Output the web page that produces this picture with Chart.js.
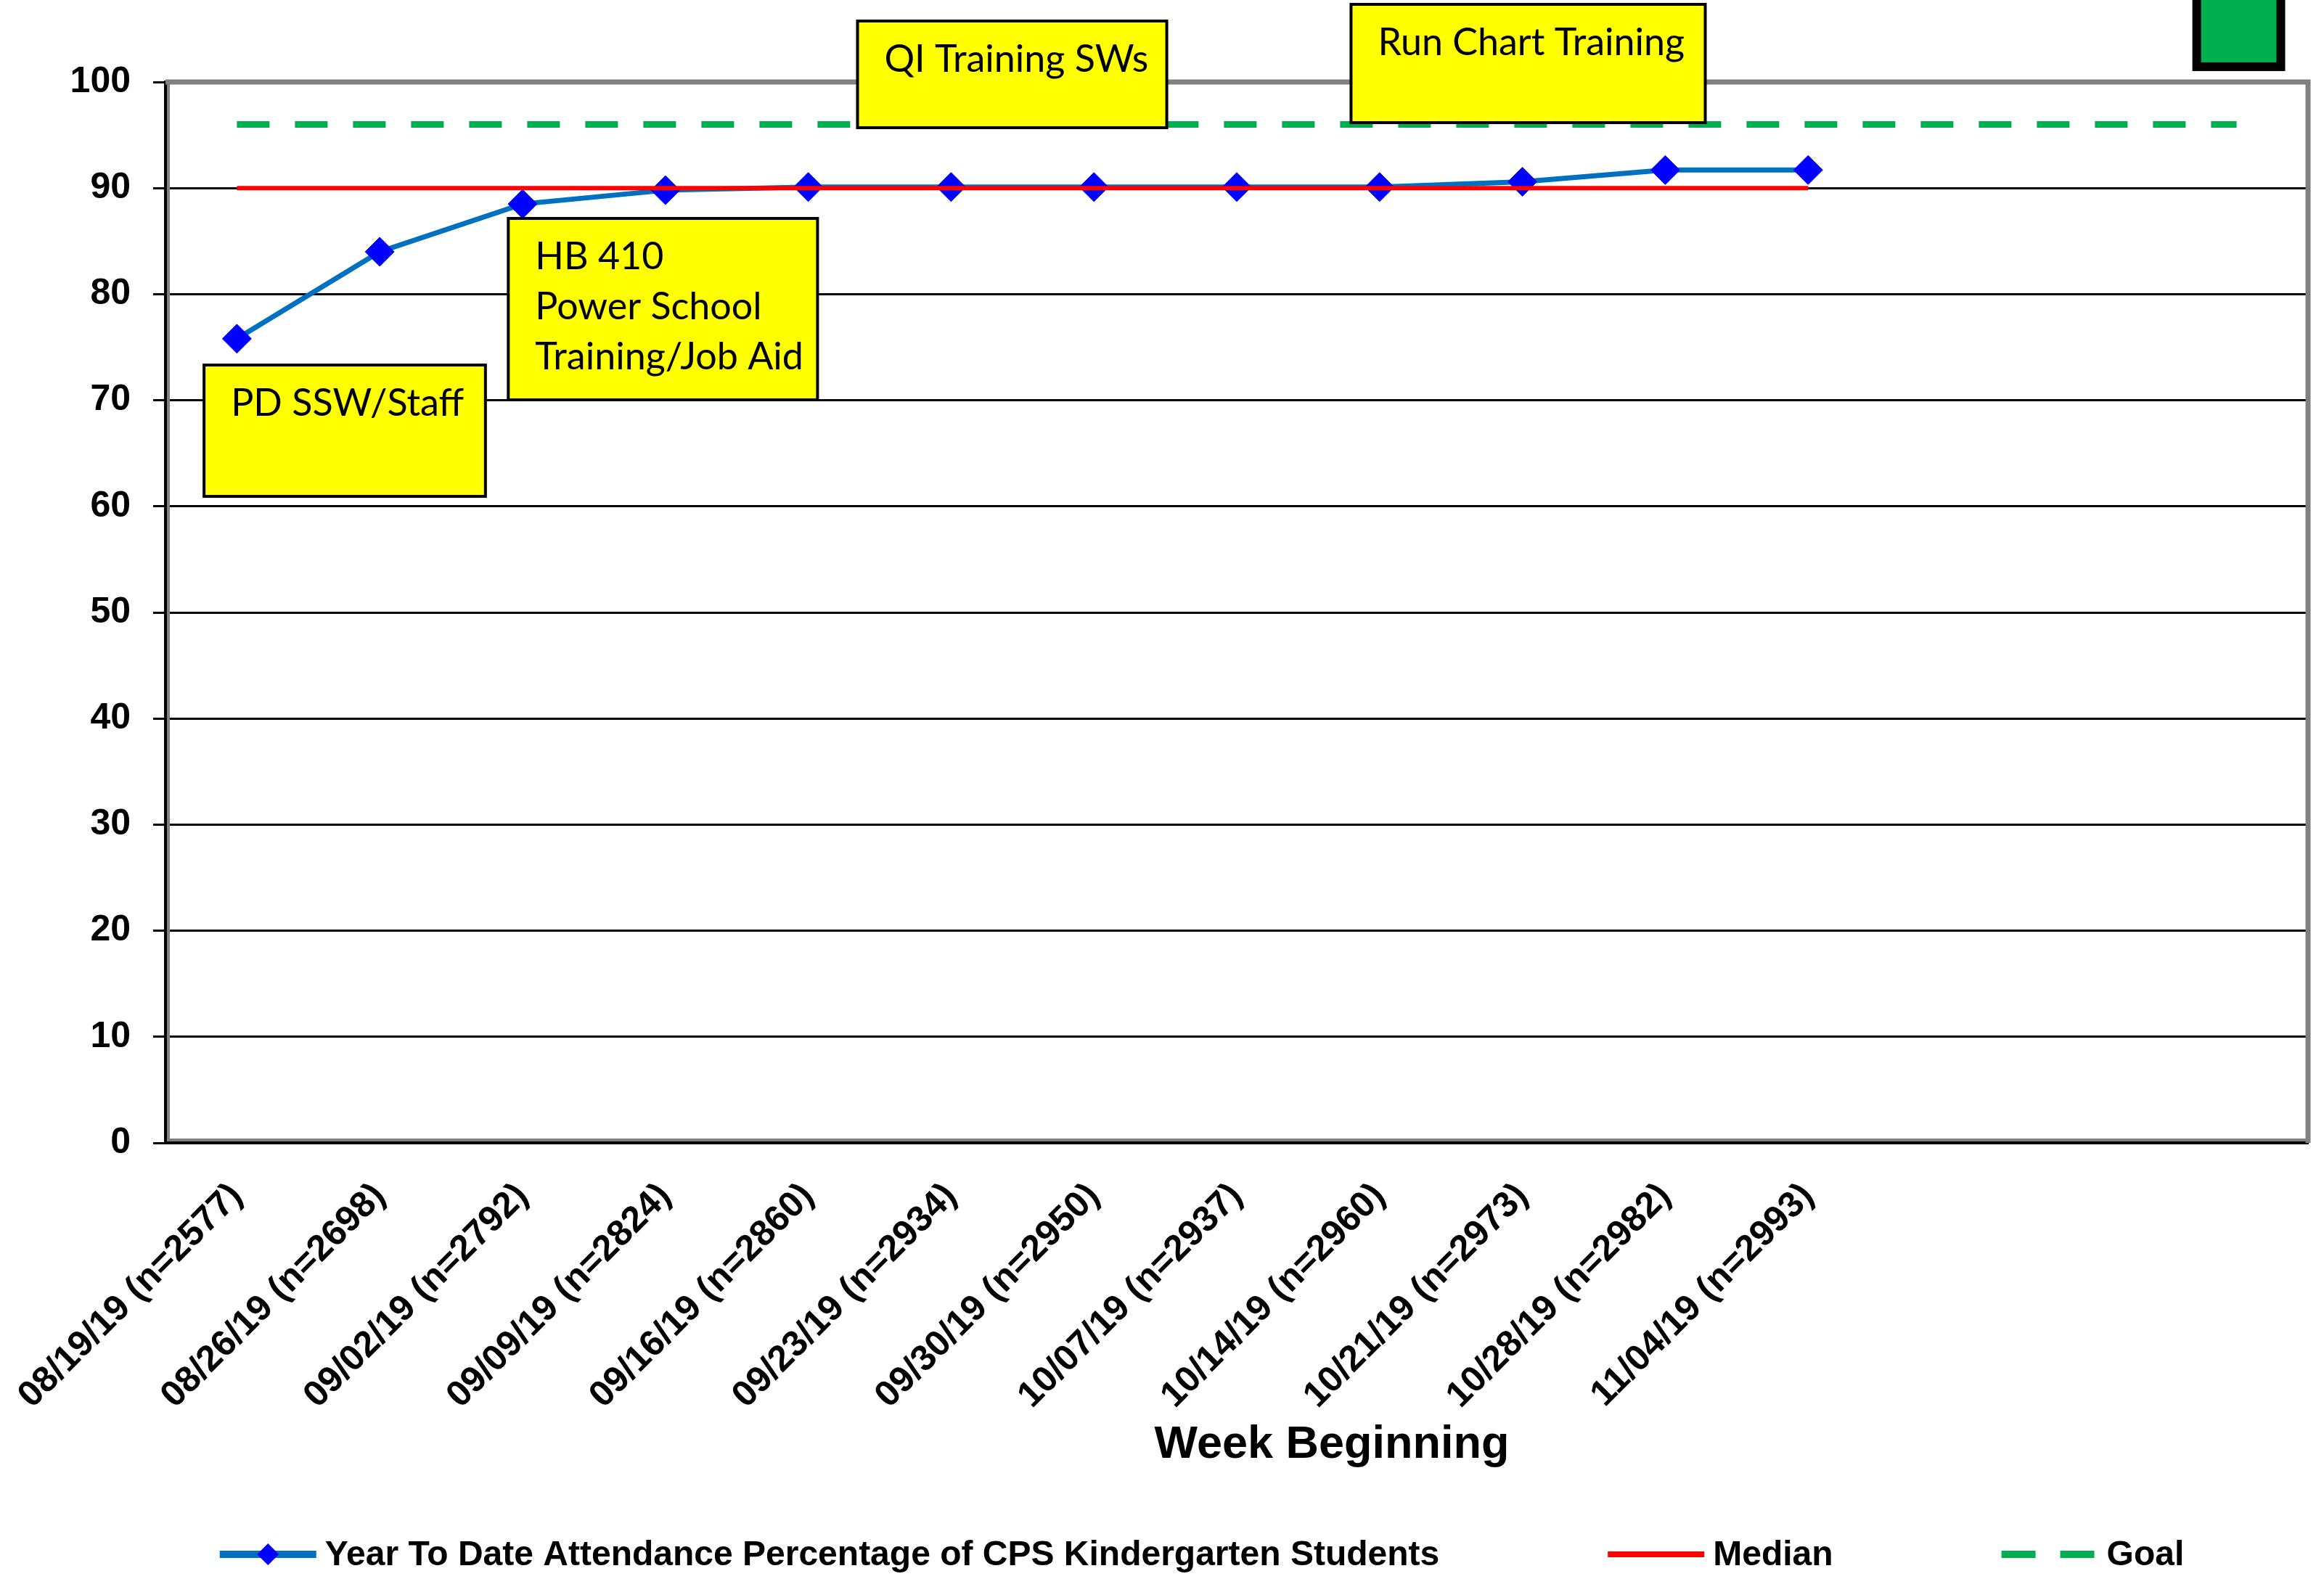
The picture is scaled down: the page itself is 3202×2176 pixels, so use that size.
<!DOCTYPE html>
<html>
<head>
<meta charset="utf-8">
<script src="https://cdn.jsdelivr.net/npm/chart.js@4.4.1/dist/chart.umd.min.js"></script>
<style>
  html, body { margin: 0; padding: 0; background: #ffffff; }
  canvas { display: block; }
</style>
</head>
<body>
<canvas id="chart" width="3202" height="2176"></canvas>
<script>
// ---------------- data ----------------
const weekLabels = [
  "08/19/19 (n=2577)", "08/26/19 (n=2698)", "09/02/19 (n=2792)", "09/09/19 (n=2824)",
  "09/16/19 (n=2860)", "09/23/19 (n=2934)", "09/30/19 (n=2950)", "10/07/19 (n=2937)",
  "10/14/19 (n=2960)", "10/21/19 (n=2973)", "10/28/19 (n=2982)", "11/04/19 (n=2993)",
  "", "", ""
];
const attendance = [75.8, 84.0, 88.5, 89.8, 90.1, 90.1, 90.1, 90.1, 90.1, 90.6, 91.7, 91.7];
const median = [90, 90, 90, 90, 90, 90, 90, 90, 90, 90, 90, 90];
const goal = [96, 96, 96, 96, 96, 96, 96, 96, 96, 96, 96, 96, 96, 96, 96];
const yTickValues = [0, 10, 20, 30, 40, 50, 60, 70, 80, 90, 100];
const seriesNames = [
  "Year To Date Attendance Percentage of CPS Kindergarten Students",
  "Median",
  "Goal"
];
const xAxisTitle = "Week Beginning";
const noteTexts = [
  ["PD SSW/Staff"],
  ["HB 410", "Power School", "Training/Job Aid"],
  ["QI Training SWs"],
  ["Run Chart Training"]
];

// ---------------- layout / style (not data) ----------------
const ARIAL = '"Liberation Sans", Arial, sans-serif';
const notePlacement = [   // in axis units: category index / value
  { x0: -0.23, x1: 1.74, y0: 73.32, y1: 60.94 },
  { x0: 1.90, x1: 4.065, y0: 87.14, y1: 70.04 },
  { x0: 4.345, x1: 6.51, y0: 105.75, y1: 95.69 },
  { x0: 7.80, x1: 10.28, y0: 107.32, y1: 96.17 }
];
const statusSquare = { x0: 13.69, x1: 14.34, y0: 108.6, y1: 101.03, border: 12, fill: '#00B050' };
const noteStyle = { fill: '#FFFF00', stroke: '#000000', lineWidth: 4, font: '52px Lato, "Open Sans", sans-serif',
                    inset: 37, firstBaseline: 70, lineStep: 69 };
const legendStyle = { font: 'bold 48px ' + ARIAL, centerX: 1656, iconY: 2142, baselineY: 2157,
                      iconWidth: 133, iconGap: 12, itemGap: 232, lineWidths: [10, 8, 10],
                      dashes: [[], [], [47, 34]], markerRadius: 15 };
const titleStyle = { font: 'bold 63px ' + ARIAL, centerX: 1835, baselineY: 2009 };

const framePlugin = {
  id: 'frame',
  beforeDatasetsDraw(chart) {
    const { ctx, chartArea: { left, right, top, bottom } } = chart;
    ctx.save();
    ctx.strokeStyle = '#808080';
    ctx.lineWidth = 7;
    ctx.beginPath();
    ctx.moveTo(left, top); ctx.lineTo(right + 3.5, top);
    ctx.moveTo(right, top); ctx.lineTo(right, bottom);
    ctx.stroke();
    ctx.lineWidth = 4;
    ctx.beginPath();
    ctx.moveTo(left + 4, top); ctx.lineTo(left + 4, bottom - 2);
    ctx.moveTo(left + 2, bottom - 4); ctx.lineTo(right, bottom - 4);
    ctx.stroke();
    ctx.restore();
  }
};

const notesPlugin = {
  id: 'notes',
  afterDatasetsDraw(chart) {
    const { ctx, scales: { x, y } } = chart;
    ctx.save();
    noteTexts.forEach((lines, i) => {
      const p = notePlacement[i];
      const L = x.getPixelForValue(p.x0), R = x.getPixelForValue(p.x1);
      const T = y.getPixelForValue(p.y0), B = y.getPixelForValue(p.y1);
      ctx.fillStyle = noteStyle.fill;
      ctx.fillRect(L, T, R - L, B - T);
      ctx.strokeStyle = noteStyle.stroke;
      ctx.lineWidth = noteStyle.lineWidth;
      ctx.strokeRect(L, T, R - L, B - T);
      ctx.fillStyle = '#000000';
      ctx.font = noteStyle.font;
      ctx.textAlign = 'left';
      ctx.textBaseline = 'alphabetic';
      lines.forEach((t, k) => {
        ctx.fillText(t, L + noteStyle.inset, T + noteStyle.firstBaseline + k * noteStyle.lineStep);
      });
    });
    const s = statusSquare;
    const L = x.getPixelForValue(s.x0), R = x.getPixelForValue(s.x1);
    const T = y.getPixelForValue(s.y0), B = y.getPixelForValue(s.y1);
    ctx.fillStyle = '#000000';
    ctx.fillRect(L, T, R - L, B - T);
    ctx.fillStyle = s.fill;
    ctx.fillRect(L + s.border, T + s.border, R - L - 2 * s.border, B - T - 2 * s.border);
    ctx.restore();
  }
};

const legendPlugin = {
  id: 'bottomLegend',
  afterDraw(chart) {
    const ctx = chart.ctx;
    const ds = chart.data.datasets;
    const st = legendStyle;
    ctx.save();
    ctx.font = st.font;
    const widths = ds.map(d => ctx.measureText(d.label).width);
    const total = widths.reduce((a, w) => a + w + st.iconWidth + st.iconGap, 0) + st.itemGap * (ds.length - 1);
    let x0 = st.centerX - total / 2;
    ds.forEach((d, i) => {
      ctx.strokeStyle = d.borderColor;
      ctx.lineWidth = st.lineWidths[i];
      ctx.setLineDash(st.dashes[i]);
      ctx.beginPath();
      ctx.moveTo(x0, st.iconY);
      ctx.lineTo(x0 + st.iconWidth, st.iconY);
      ctx.stroke();
      ctx.setLineDash([]);
      if (d.pointRadius > 0) {
        const cx = x0 + st.iconWidth / 2, r = st.markerRadius;
        ctx.fillStyle = d.pointBackgroundColor;
        ctx.beginPath();
        ctx.moveTo(cx - r, st.iconY); ctx.lineTo(cx, st.iconY - r);
        ctx.lineTo(cx + r, st.iconY); ctx.lineTo(cx, st.iconY + r);
        ctx.closePath();
        ctx.fill();
      }
      ctx.fillStyle = '#000000';
      ctx.textAlign = 'left';
      ctx.textBaseline = 'alphabetic';
      ctx.fillText(d.label, x0 + st.iconWidth + st.iconGap, st.baselineY);
      x0 += st.iconWidth + st.iconGap + widths[i] + st.itemGap;
    });
    ctx.restore();
  }
};

const titlePlugin = {
  id: 'xTitle',
  afterDraw(chart) {
    const ctx = chart.ctx;
    ctx.save();
    ctx.font = titleStyle.font;
    ctx.fillStyle = '#000000';
    ctx.textAlign = 'center';
    ctx.textBaseline = 'alphabetic';
    ctx.fillText(xAxisTitle, titleStyle.centerX, titleStyle.baselineY);
    ctx.restore();
  }
};

new Chart(document.getElementById('chart'), {
  type: 'line',
  data: {
    labels: weekLabels,
    datasets: [
      {
        label: seriesNames[0],
        data: attendance,
        borderColor: '#0070C0',
        borderWidth: 7,
        tension: 0,
        pointStyle: 'rectRot',
        pointRadius: 20,
        pointBackgroundColor: '#0000FF',
        pointBorderColor: '#0000FF',
        pointBorderWidth: 1,
        order: 2
      },
      {
        label: seriesNames[1],
        data: median,
        borderColor: '#FF0000',
        borderWidth: 6,
        pointRadius: 0,
        order: 1
      },
      {
        label: seriesNames[2],
        data: goal,
        borderColor: '#00B050',
        borderWidth: 9,
        borderDash: [45, 35],
        pointRadius: 0,
        order: 0
      }
    ]
  },
  options: {
    responsive: false,
    devicePixelRatio: 1,
    animation: false,
    layout: { padding: { top: 113, right: 22, bottom: 0, left: 0 } },
    plugins: { legend: { display: false }, tooltip: { enabled: false } },
    scales: {
      x: {
        type: 'category',
        offset: true,
        grid: { display: false, drawTicks: false },
        border: { display: true, color: '#000000', width: 4 },
        ticks: {
          autoSkip: false,
          minRotation: 45,
          maxRotation: 45,
          padding: 44,
          color: '#000000',
          font: { family: ARIAL, size: 50, weight: 'bold' }
        },
        afterFit(s) { s.height = 601; s.paddingLeft = 0; s.paddingRight = 0; }
      },
      y: {
        min: 0,
        max: 100,
        afterBuildTicks(s) { s.ticks = yTickValues.map(v => ({ value: v })); },
        grid: { color: '#000000', lineWidth: 3, tickLength: 17, tickColor: '#000000', tickWidth: 3 },
        border: { display: true, color: '#000000', width: 4 },
        ticks: {
          padding: 31,
          color: '#000000',
          font: { family: ARIAL, size: 50, weight: 'bold' }
        },
        afterFit(s) { s.width = 228; }
      }
    }
  },
  plugins: [framePlugin, notesPlugin, legendPlugin, titlePlugin]
});
</script>
</body>
</html>
